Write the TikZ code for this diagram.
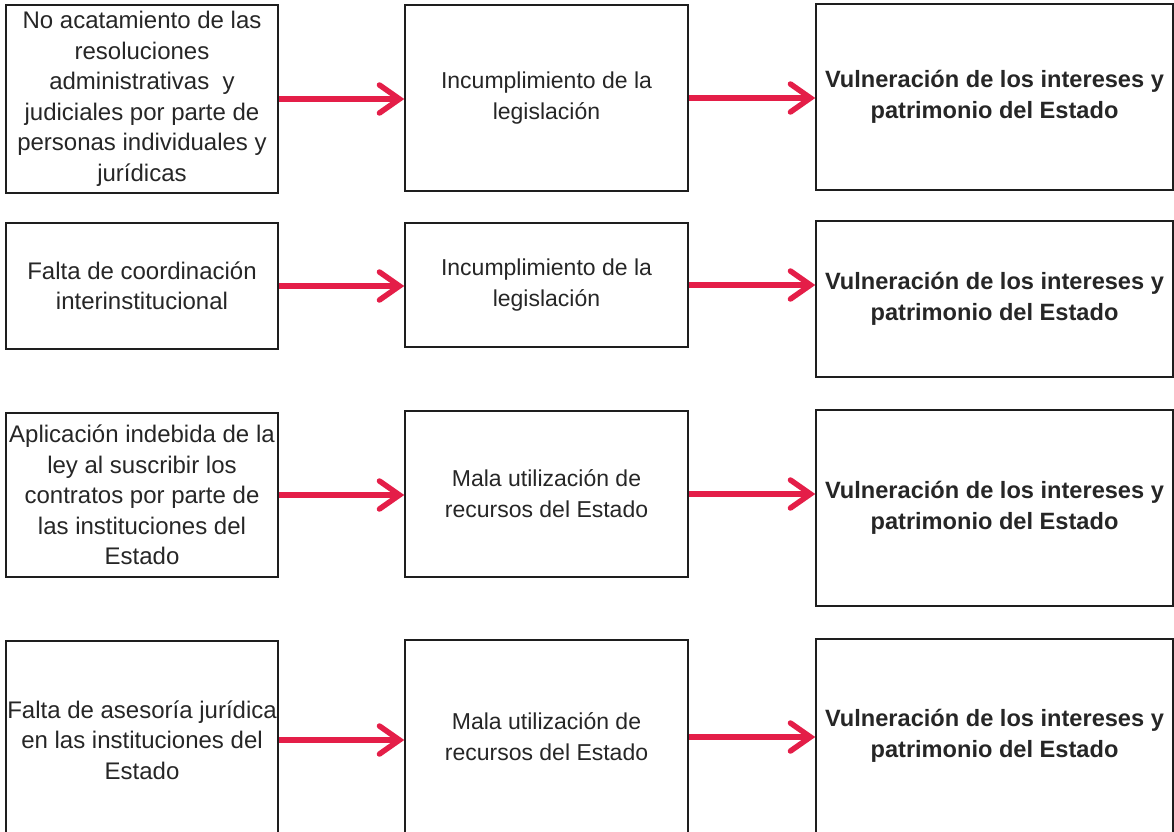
\documentclass[tikz,border=0pt]{standalone}
\usepackage{fontspec}
\setmainfont{Liberation Sans}
\usetikzlibrary{arrows.meta}
\definecolor{arrowred}{RGB}{228,30,72}
\definecolor{txtdark}{RGB}{38,38,38}
\definecolor{boxline}{RGB}{30,30,30}
\begin{document}
\begin{tikzpicture}[x=1pt,y=-1pt,
  box/.style={draw=boxline, line width=1.5pt, inner sep=0pt, align=center, text=txtdark},
  causebox/.style={box, font=\fontsize{24}{30.5}\selectfont},
  midbox/.style={box, font=\fontsize{23}{31}\selectfont},
  effbox/.style={box, font=\fontsize{23.6}{31}\selectfont\bfseries},
  flow/.style={draw=arrowred, line width=5.5pt, -{Straight Barb[length=20pt,width=28pt,line cap=round]}}
]
\useasboundingbox (0,0) rectangle (1174,831);
% row 1
\node[causebox, minimum width=272, minimum height=188] (L1) at (142,99)
 {No acatamiento de las\\resoluciones\\administrativas\ \ y\\judiciales por parte de\\personas individuales y\\jurídicas};
\node[midbox, minimum width=283, minimum height=186] (M1) at (546.5,98)
 {Incumplimiento de la\\legislación};
\node[effbox, minimum width=357, minimum height=186] (R1) at (994.5,97)
 {Vulneración de los intereses y\\patrimonio del Estado};
% row 2
\node[causebox, minimum width=272, minimum height=126] (L2) at (142,286)
 {Falta de coordinación\\interinstitucional};
\node[midbox, minimum width=283, minimum height=124] (M2) at (546.5,285)
 {Incumplimiento de la\\legislación};
\node[effbox, minimum width=357, minimum height=156] (R2) at (994.5,299)
 {Vulneración de los intereses y\\patrimonio del Estado};
% row 3
\node[causebox, minimum width=272, minimum height=164] (L3) at (142,495)
 {Aplicación indebida de la\\ley al suscribir los\\contratos por parte de\\las instituciones del\\Estado};
\node[midbox, minimum width=283, minimum height=166] (M3) at (546.5,494)
 {Mala utilización de\\recursos del Estado};
\node[effbox, minimum width=357, minimum height=196] (R3) at (994.5,508)
 {Vulneración de los intereses y\\patrimonio del Estado};
% row 4
\node[causebox, minimum width=272, minimum height=198] (L4) at (142,740)
 {Falta de asesoría jurídica\\en las instituciones del\\Estado};
\node[midbox, minimum width=283, minimum height=194] (M4) at (546.5,737)
 {Mala utilización de\\recursos del Estado};
\node[effbox, minimum width=357, minimum height=194] (R4) at (994.5,736)
 {Vulneración de los intereses y\\patrimonio del Estado};
% connectors
\foreach \i in {1,2,3,4}{
  \draw[flow] (L\i.east) -- (L\i.east -| M\i.west);
  \draw[flow] (M\i.east) -- (M\i.east -| R\i.west);
}
\end{tikzpicture}
\end{document}
